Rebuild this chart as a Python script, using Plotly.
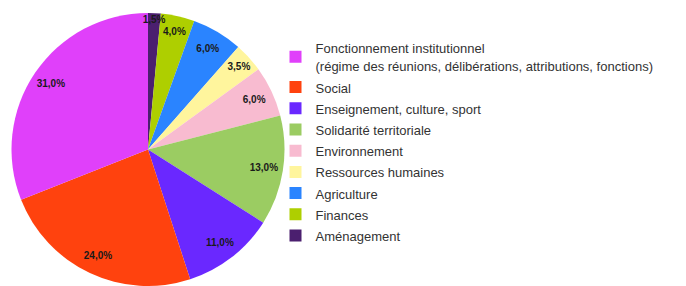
import plotly.graph_objects as go

# Data (legend order)
labels = [
    "Fonctionnement institutionnel<br>(régime des réunions, délibérations, attributions, fonctions)",
    "Social",
    "Enseignement, culture, sport",
    "Solidarité territoriale",
    "Environnement",
    "Ressources humaines",
    "Agriculture",
    "Finances",
    "Aménagement",
]
values = [31.0, 24.0, 11.0, 13.0, 6.0, 3.5, 6.0, 4.0, 1.5]
text_labels = ["31,0%", "24,0%", "11,0%", "13,0%", "6,0%", "3,5%", "6,0%", "4,0%", "1,5%"]
colors = ["#E040FA", "#FF420E", "#6A28FF", "#9BCC62", "#F8BBD0",
          "#FFF59D", "#2A84FF", "#AECF00", "#4B1F6F"]


def legend_text(s):
    # render legend text at 13px while the legend row spacing follows a 14px font
    return "<br>".join("<span style='font-size:13px'>%s</span>" % p for p in s.split("<br>"))


# drawn clockwise from 12 o'clock, starting with the last category
L = [legend_text(s) for s in labels[::-1]]
V = values[::-1]
T = text_labels[::-1]
C = colors[::-1]

W, H = 678, 278
dom = dict(x=[3.5 / W, 276.5 / W], y=[0, 1])

fig = go.Figure()
fig.add_trace(go.Pie(
    labels=L, values=V,
    textinfo="none",
    marker=dict(colors=C, line=dict(width=0)),
    sort=False, direction="clockwise", rotation=0,
    domain=dom, hoverinfo="percent",
))
fig.add_trace(go.Pie(
    labels=L, values=V,
    text=T, textinfo="text",
    textposition="inside",
    insidetextorientation="horizontal",
    textfont=dict(family="Liberation Sans", size=10, color="#1a1a1a", weight="bold"),
    marker=dict(colors=["rgba(0,0,0,0)"] * len(V), line=dict(width=0)),
    sort=False, direction="clockwise", rotation=0,
    hole=0.72, domain=dom, showlegend=False, hoverinfo="skip",
))

fig.update_layout(
    width=W, height=H,
    margin=dict(l=0, r=0, t=5, b=0),
    paper_bgcolor="white",
    plot_bgcolor="white",
    showlegend=True,
    uniformtext=dict(minsize=10, mode="show"),
    legend=dict(
        x=267.5 / W, y=0.930, xanchor="left", yanchor="top",
        traceorder="reversed",
        font=dict(family="Liberation Sans", size=14, color="#333333"),
        itemwidth=30,
        bgcolor="rgba(0,0,0,0)",
    ),
)

fig.write_html("out.html")
